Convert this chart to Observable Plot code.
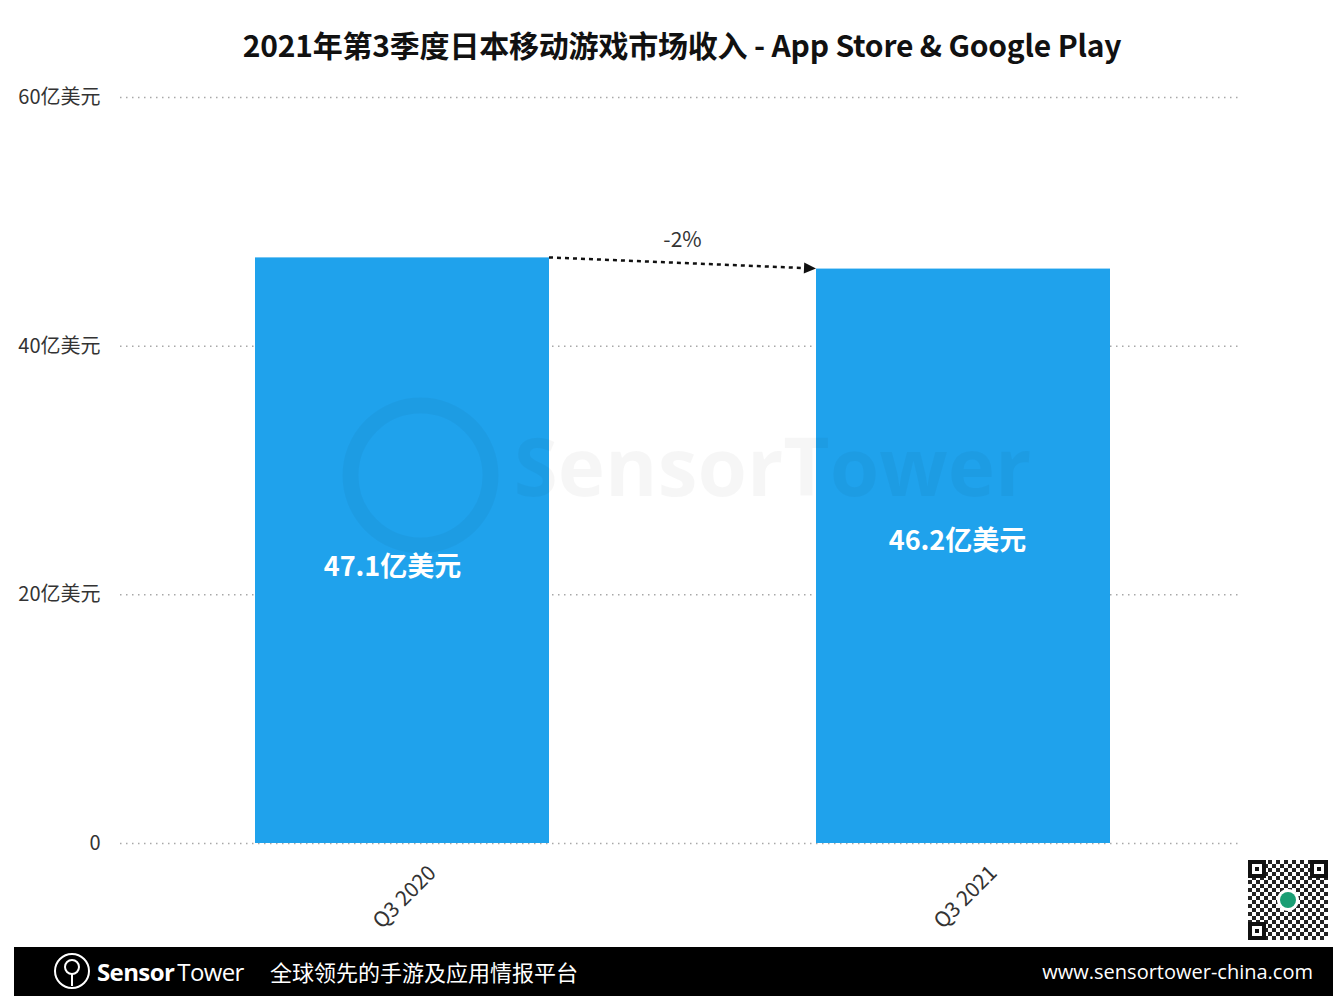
<!DOCTYPE html>
<html><head><meta charset="utf-8">
<script src="https://cdn.jsdelivr.net/npm/d3@7"></script>
<script src="https://cdn.jsdelivr.net/npm/@observablehq/plot@0.6"></script>
<style>
body{margin:0;background:#fff;font-family:"Noto Sans CJK SC","Noto Sans",sans-serif;}
#wrap{position:relative;width:1344px;height:996px;overflow:hidden;background:#fff;}
#title{height:80px;line-height:88px;text-align:center;font-size:30px;font-weight:700;color:#111;padding-left:20px;box-sizing:border-box;white-space:nowrap;letter-spacing:-0.2px;}
#chart svg{display:block;}
#footer{position:absolute;left:14px;top:947px;width:1319px;height:49px;background:#000;color:#fff;}
#footer .logo{position:absolute;left:38px;top:4px;}
#footer .brand{position:absolute;left:83px;top:0;line-height:49px;font-size:24px;font-family:"Open Sans","Noto Sans",sans-serif;letter-spacing:-0.6px;}
#footer .brand b{font-weight:700;margin-right:3px;}
#footer .tag{position:absolute;left:256px;top:0;line-height:49px;font-size:22px;}
#footer .url{position:absolute;right:20px;top:0;line-height:49px;font-size:20px;font-family:"Open Sans","Noto Sans",sans-serif;}
#qr{position:absolute;left:1248px;top:860px;width:80px;height:80px;
 background:repeating-conic-gradient(#222 0 25%, #fff 0 50%) 0 0/8px 8px;}
#qr .f{position:absolute;width:18px;height:18px;border:4px solid #111;background:#fff;box-sizing:border-box;}
#qr .f::after{content:"";position:absolute;left:3px;top:3px;width:4px;height:4px;background:#111;}
#qr .g{position:absolute;left:32px;top:32px;width:16px;height:16px;border-radius:50%;background:#1a9e74;box-shadow:0 0 0 3px #fff;}
</style>
</head>
<body>
<div id="wrap">
  <div id="title">2021年第3季度日本移动游戏市场收入 - App Store &amp; Google Play</div>
  <div id="chart"></div>
  <div id="qr"><div class="f" style="left:0;top:0"></div><div class="f" style="right:0;top:0"></div><div class="f" style="left:0;bottom:0"></div><div class="g"></div></div>
  <div id="footer">
    <svg class="logo" width="40" height="40" viewBox="0 0 40 40">
      <circle cx="20" cy="20" r="17" fill="none" stroke="#fff" stroke-width="2"/>
      <circle cx="20" cy="16" r="7" fill="none" stroke="#fff" stroke-width="2"/>
      <line x1="20" y1="23" x2="20" y2="35" stroke="#fff" stroke-width="2"/>
    </svg>
    <span class="brand"><b>Sensor</b>Tower</span>
    <span class="tag">全球领先的手游及应用情报平台</span>
    <span class="url">www.sensortower-china.com</span>
  </div>
</div>
<script>
const categories = ["Q3 2020", "Q3 2021"];
const revenue = [47.1, 46.2];
const valueLabels = ["47.1亿美元", "46.2亿美元"];
const yTicks = [0, 20, 40, 60];
const unit = "亿美元";

const data = categories.map((c, i) => ({quarter: c, value: revenue[i], label: valueLabels[i]}));
const change = Math.round((revenue[1] - revenue[0]) / revenue[0] * 100);
const font = '"Noto Sans CJK SC","Noto Sans",sans-serif';

function arrowMark(index, scales) {
  const x = scales.x, y = scales.y;
  const bw = typeof x.bandwidth === "function" ? x.bandwidth() : x.bandwidth;
  const x1 = x(categories[0]) + bw, y1 = y(revenue[0]);
  const x2 = x(categories[1]), y2 = y(revenue[1]);
  const g = d3.create("svg:g");
  const ang = Math.atan2(y2 - y1, x2 - x1);
  const hl = 12, hw = 5.5;
  const bx = x2 - hl * Math.cos(ang), by = y2 - hl * Math.sin(ang);
  g.append("line").attr("x1", x1).attr("y1", y1).attr("x2", bx).attr("y2", by)
    .attr("stroke", "#111").attr("stroke-width", 2.5).attr("stroke-dasharray", "4,4");
  const px = -Math.sin(ang), py = Math.cos(ang);
  g.append("path").attr("d", `M${x2},${y2}L${bx + px * hw},${by + py * hw}L${bx - px * hw},${by - py * hw}Z`).attr("fill", "#111");
  g.append("text").attr("x", (x1 + x2) / 2).attr("y", (y1 + y2) / 2 - 22)
    .attr("text-anchor", "middle").attr("dominant-baseline", "middle")
    .attr("font-size", 21).attr("font-family", font).attr("fill", "#333")
    .text(`${change}%`);
  return g.node();
}

const chart = Plot.plot({
  width: 1344, height: 867,
  marginTop: 17, marginBottom: 104, marginLeft: 120, marginRight: 104,
  style: {fontFamily: font, fontSize: "20px", color: "#333", background: "transparent"},
  x: {domain: categories, paddingInner: 0.476, paddingOuter: 0.236, align: 0.509, label: null},
  y: {domain: [0, 60], label: null},
  marks: [
    Plot.gridY(yTicks, {stroke: "#a8a8a8", strokeOpacity: 1, strokeWidth: 1.5, strokeDasharray: "1.5,4.5"}),
    Plot.axisY(yTicks, {tickSize: 0, tickPadding: 20, fontSize: 20, label: null, tickFormat: d => d === 0 ? "0" : `${d}${unit}`}),
    Plot.axisX({tickSize: 0, tickPadding: 6, tickRotate: -45, fontSize: 21, dx: 30, dy: 20, label: null}),
    Plot.barY(data, {x: "quarter", y: "value", fill: "#1fa2ec"}),
    Plot.dot([0], {frameAnchor: "middle", dx: -260, dy: 5, r: 70, stroke: "#000", strokeOpacity: 0.035, strokeWidth: 16, fill: "none"}),
    Plot.text(["SensorTower"], {frameAnchor: "middle", dx: 92, dy: 0, fontSize: 80, fontWeight: 700, fill: "#000", fillOpacity: 0.035, fontFamily: '"Open Sans",sans-serif'}),
    Plot.text(data.filter(d => d.quarter === categories[0]), {x: "quarter", y: d => d.value / 2, text: "label", fill: "#fff", fontSize: 27, fontWeight: 700, dx: -10, dy: 17}),
    Plot.text(data.filter(d => d.quarter === categories[1]), {x: "quarter", y: d => d.value / 2, text: "label", fill: "#fff", fontSize: 27, fontWeight: 700, dx: -6, dy: -15}),
    arrowMark
  ]
});
document.getElementById("chart").appendChild(chart);
</script>
</body></html>
